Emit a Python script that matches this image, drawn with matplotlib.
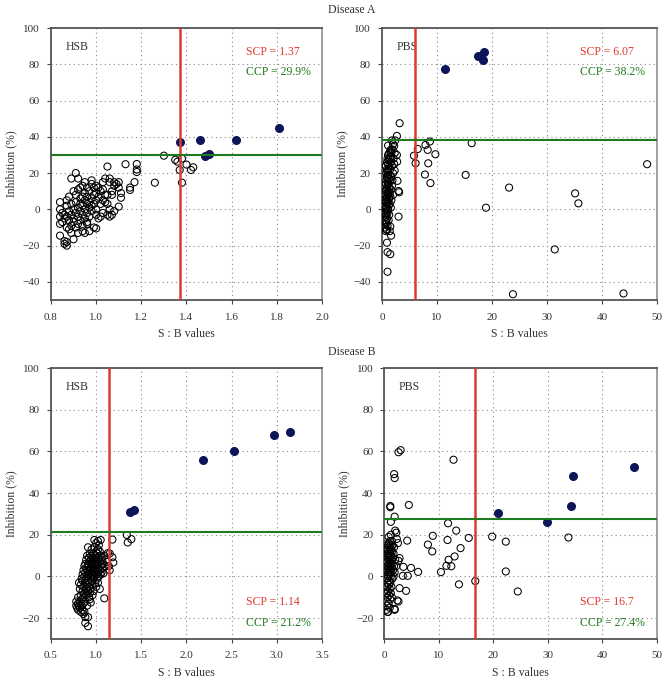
import matplotlib
matplotlib.use('Agg')
import matplotlib.pyplot as plt

plt.rcParams['font.family'] = ['Liberation Serif', 'DejaVu Serif']

# ── Disease A / HSB ──
hsb_a_open = [
    (0.84, 4), (0.84, 0), (0.84, -4), (0.84, -8), (0.84, -14.5), (0.85, -2), (0.85, -7), (0.86, -3),
    (0.86, -5), (0.86, -17.5), (0.86, -19), (0.87, -20), (0.87, -18), (0.87, -10), (0.87, -4), (0.87, 2),
    (0.87, 5), (0.88, 7), (0.88, -1), (0.88, -6), (0.88, -11), (0.89, 17), (0.89, 3), (0.89, -3),
    (0.89, -9), (0.89, -13), (0.9, 0), (0.9, -5), (0.9, -7), (0.9, -16.5), (0.9, 10), (0.91, 20),
    (0.91, -2), (0.91, 4), (0.91, -10), (0.91, 8), (0.92, 17), (0.92, -4), (0.92, 1), (0.92, -8),
    (0.92, -13), (0.93, 6), (0.93, -1), (0.93, 3), (0.93, -6), (0.93, 12), (0.94, 13), (0.94, -3),
    (0.94, 2), (0.94, -9), (0.94, -12), (0.95, 15), (0.95, 5), (0.95, 0), (0.95, -5), (0.95, -13),
    (0.95, 9), (0.96, 3), (0.96, -2), (0.96, 7), (0.96, 12), (0.96, -7), (0.97, 1), (0.97, 4),
    (0.97, -4), (0.97, 10), (0.98, 6), (0.98, 2), (0.98, -1), (0.98, 14), (0.99, -10), (0.99, 8),
    (0.99, 12), (0.99, 3), (1.0, -10.5), (1.0, 9), (1.0, 5), (1.0, 0), (1.0, -3), (1.01, 12),
    (1.01, 7), (1.01, -5), (1.02, 10), (1.02, 3), (1.02, -4), (1.03, 5), (1.03, 11), (1.03, -2),
    (1.04, 4), (1.04, 17), (1.04, 8), (1.05, 23.6), (1.05, -3), (1.05, 8), (1.05, 3), (1.06, 15),
    (1.06, 17), (1.06, 0), (1.06, -4), (1.07, -3), (1.07, 8), (1.07, 10), (1.08, 13), (1.08, -1),
    (1.08, 15), (1.09, 14), (1.1, 12), (1.11, 9), (1.03, 15), (0.96, -8), (0.97, -12), (0.94, 7),
    (0.92, 11), (0.98, 16), (1.0, 13),
    (1.30, 29.6), (1.35, 27.3), (1.36, 26.3), (1.38, 28), (1.37, 21.7), (1.38, 14.7), (1.40, 24.7),
    (1.42, 21.7), (1.43, 23.2), (1.26, 14.7), (1.13, 24.9), (1.18, 25), (1.18, 22), (1.18, 20.6),
    (1.15, 12), (1.15, 10.7), (1.17, 15), (1.10, 15), (1.11, 6.4), (1.10, 1.5),
]
hsb_a_filled = [(1.37, 37), (1.46, 38.3), (1.48, 29.6), (1.50, 30.6), (1.62, 38.3), (1.81, 44.8)]

# ── Disease A / PBS ──
pbs_a_open = [
    (0.6, -10), (0.6, -6), (0.6, -2), (0.6, 2), (0.6, 5), (0.6, 8), (0.7, -8), (0.7, -4), (0.7, 0),
    (0.7, 4), (0.7, 10), (0.7, 14), (0.7, 24), (0.8, -11), (0.8, -7), (0.8, -3), (0.8, 1), (0.8, 6),
    (0.8, 11), (0.8, 16), (0.8, 20), (0.9, -5), (0.9, -1), (0.9, 3), (0.9, 7), (0.9, 12), (0.9, 18),
    (0.9, 22), (0.9, 26), (1.0, -9), (1.0, -2), (1.0, 5), (1.0, 9), (1.0, 13), (1.0, 17), (1.0, 21),
    (1.0, 28), (1.1, 0), (1.1, 4), (1.1, 8), (1.1, 15), (1.1, 19), (1.1, 25), (1.1, 30), (1.2, -6),
    (1.2, 2), (1.2, 10), (1.2, 14), (1.2, 22), (1.2, 27), (1.3, -3), (1.3, 6), (1.3, 12), (1.3, 17),
    (1.3, 24), (1.3, 31), (1.4, 3), (1.4, 9), (1.4, 19), (1.4, 28), (1.5, -9.5), (1.5, 7), (1.5, 16),
    (1.5, 22), (1.5, 32), (1.6, 11), (1.6, 26), (1.6, 29), (1.7, 5), (1.7, 18), (1.7, 31), (1.8, 13),
    (1.8, 24), (1.9, 33), (2.0, 36), (2.0, 20), (2.1, 28), (2.2, 35), (2.3, 31), (2.4, 38), (1.8, 38),
    (2.0, 8), (1.4, -12), (0.7, -12), (2.2, 25), (1.6, 33), (1.9, 16),
    (3.2, 47.5), (2.7, 40.5), (6.5, 33.3), (5.8, 29.6), (6.1, 25.4), (7.9, 35.5), (8.7, 37.4),
    (8.3, 32.8), (8.4, 25.4), (9.7, 30.4), (7.8, 19.2), (8.8, 14.5), (16.3, 36.5), (15.2, 19),
    (23.1, 12), (18.9, 0.9), (35.1, 8.8), (35.7, 3.3), (31.4, -22.1), (23.8, -46.8), (43.9, -46.4),
    (48.2, 24.9), (3.0, 10.1), (3.1, 9.4), (3.0, -4), (2.8, 15.7), (2.75, 26.3), (2.7, 30), (2.3, 21.4),
    (1.6, 0.9), (1.65, -14.5), (1.5, -24.7), (1.0, -23.6), (0.9, -18.4), (1.0, -34.4), (1.1, 35.2),
    (0.9, -11.4),
]
pbs_a_filled = [(11.4, 77.5), (17.5, 84.7), (18.3, 82.5), (18.6, 86.6)]

# ── Disease B / HSB ──
hsb_b_open = [
    (0.78, -12), (0.78, -14), (0.79, -15), (0.8, -13), (0.8, -16), (0.8, -10), (0.81, -3), (0.81, -14),
    (0.82, -12), (0.82, -6), (0.82, -15), (0.83, -17), (0.83, -9), (0.83, -4), (0.84, -11), (0.84, -1),
    (0.84, -14), (0.85, -7), (0.85, -2), (0.85, 1), (0.85, -16), (0.86, -5), (0.86, 3), (0.86, -10),
    (0.86, -13), (0.87, -8), (0.87, 0), (0.87, 5), (0.87, -17), (0.88, -3), (0.88, 2), (0.88, 6),
    (0.88, -12), (0.89, -6), (0.89, -1), (0.89, 4), (0.89, 8), (0.89, -9), (0.9, -14), (0.9, -4),
    (0.9, 0), (0.9, 3), (0.9, 10), (0.91, -7), (0.91, -2), (0.91, 2), (0.91, 6), (0.91, 14),
    (0.92, -10), (0.92, -5), (0.92, 1), (0.92, 5), (0.92, 9), (0.93, -3), (0.93, 3), (0.93, 7),
    (0.93, 11), (0.93, -8), (0.94, -6), (0.94, 0), (0.94, 4), (0.94, 8), (0.94, -12.5), (0.95, -2),
    (0.95, 2), (0.95, 6), (0.95, 10), (0.95, 13), (0.96, -4), (0.96, 1), (0.96, 5), (0.96, 9),
    (0.97, -7), (0.97, -1), (0.97, 3), (0.97, 7), (0.97, 11), (0.98, 0), (0.98, 4), (0.98, 8),
    (0.98, 14), (0.98, 17.5), (0.99, -3), (0.99, 2), (0.99, 6), (0.99, 10), (1.0, -5), (1.0, 1),
    (1.0, 5), (1.0, 9), (1.0, 12), (1.0, 16), (1.01, -1), (1.01, 3), (1.01, 7), (1.01, 11),
    (1.02, -3), (1.02, 2), (1.02, 6), (1.02, 13), (1.02, 17), (1.03, 0), (1.03, 4), (1.03, 9),
    (1.03, 15), (1.04, -6), (1.04, 3), (1.04, 7), (1.04, 12), (1.05, 1), (1.05, 5), (1.05, 10),
    (1.05, 17.5), (1.06, 2), (1.06, 6), (1.06, 9), (1.07, 4), (1.07, 8), (1.08, 1.5), (1.08, 6),
    (1.09, 10), (1.1, 5), (1.12, 7), (1.14, 5), (1.15, 11), (1.15, 3), (0.96, -9), (0.93, -11),
    (0.88, -19.5), (0.86, -18),
    (1.34, 19.9), (1.35, 16.3), (1.39, 17.9), (1.18, 17.7), (1.19, 6.7), (1.18, 9.2), (1.13, 11.2),
    (1.09, -10.5), (0.91, -23.9), (0.88, -22.3), (0.91, -19.5),
]
hsb_b_filled = [(1.37, 31.1), (1.42, 31.9), (2.18, 56.1), (2.53, 60.4), (2.97, 68.1), (3.15, 69.2)]

# ── Disease B / PBS ──
pbs_b_open = [
    (0.4, -16), (0.4, -12), (0.4, -8), (0.5, -14), (0.5, -5), (0.5, -1), (0.5, 3), (0.5, 7), (0.6, -10),
    (0.6, -3), (0.6, 1), (0.6, 5), (0.6, 9), (0.6, 13), (0.7, -17), (0.7, -7), (0.7, 0), (0.7, 4),
    (0.7, 11), (0.7, 15), (0.8, -13), (0.8, -4), (0.8, 2), (0.8, 6), (0.8, 10), (0.8, 16), (0.9, -9),
    (0.9, -2), (0.9, 3), (0.9, 8), (0.9, 12), (0.9, 14), (1.0, -15), (1.0, -6), (1.0, 1), (1.0, 5),
    (1.0, 9), (1.0, 13), (1.0, 17), (1.1, -11), (1.1, -3), (1.1, 3), (1.1, 7), (1.1, 11), (1.1, 15),
    (1.2, -8), (1.2, 0), (1.2, 6), (1.2, 10), (1.2, 20), (1.3, -5), (1.3, 2), (1.3, 8), (1.3, 13),
    (1.4, -10), (1.4, 4), (1.4, 12), (1.4, 17), (1.5, -1), (1.5, 6), (1.5, 15), (1.6, 3), (1.6, 9),
    (1.7, 0), (1.7, 11), (1.8, 5), (1.8, 14), (1.9, -16), (1.9, 2), (2.0, 22), (2.0, 8), (2.2, 21),
    (2.3, 18), (2.2, 5), (2.6, -12), (2.5, 16), (0.6, -17), (0.8, 19),
    (3.0, 60.6), (2.6, 59.6), (12.7, 56), (1.8, 49.1), (1.9, 47.2), (1.1, 33.8), (1.1, 33.2),
    (4.5, 34.3), (1.9, 28.7), (1.2, 26.2), (11.7, 25.5), (13.2, 22), (8.9, 19.5), (8.0, 15.3),
    (8.8, 12), (11.6, 17.5), (15.5, 18.5), (19.8, 19.1), (22.3, 16.7), (33.8, 18.7), (4.2, 17.2),
    (14.0, 13.6), (12.9, 9.6), (11.8, 8), (11.4, 5.1), (12.3, 4.9), (10.4, 2.1), (6.2, 2.2),
    (4.9, 4.1), (3.5, 4.6), (3.4, 0.3), (4.3, 0.3), (4.0, -6.9), (2.8, -5.6), (13.7, -3.8),
    (16.7, -2.2), (22.3, 2.4), (24.5, -7.2), (2.4, -11.5), (1.9, -15.6), (2.8, 8.8), (2.6, 7.5),
]
pbs_b_filled = [(20.9, 30.6), (29.8, 26.3), (34.3, 34), (34.7, 48.2), (45.8, 52.6)]

panels = [
    # label, open, filled, scp, ccp, xlim, xticks, ylim, yticks, rect, text on top
    ('HSB', hsb_a_open, hsb_a_filled, 1.37, 29.9, (0.8, 2.0), [0.8, 1.0, 1.2, 1.4, 1.6, 1.8, 2.0],
     (-50, 100), [-40, -20, 0, 20, 40, 60, 80, 100], [0.0763, 0.5588, 0.4057, 0.4], True, '1.37', '29.9%'),
    ('PBS', pbs_a_open, pbs_a_filled, 6.07, 38.2, (0, 50), [0, 10, 20, 30, 40, 50],
     (-50, 100), [-40, -20, 0, 20, 40, 60, 80, 100], [0.5719, 0.5588, 0.4117, 0.4], True, '6.07', '38.2%'),
    ('HSB', hsb_b_open, hsb_b_filled, 1.14, 21.2, (0.5, 3.5), [0.5, 1.0, 1.5, 2.0, 2.5, 3.0, 3.5],
     (-30, 100), [-20, 0, 20, 40, 60, 80, 100], [0.0763, 0.0603, 0.4057, 0.3985], False, '1.14', '21.2%'),
    ('PBS', pbs_b_open, pbs_b_filled, 16.7, 27.4, (0, 50), [0, 10, 20, 30, 40, 50],
     (-30, 100), [-20, 0, 20, 40, 60, 80, 100], [0.5753, 0.0603, 0.4078, 0.3985], False, '16.7', '27.4%'),
]

fig = plt.figure(figsize=(6.68, 6.8), dpi=100)

for label, opn, fil, scp, ccp, xlim, xticks, ylim, yticks, rect, top, scp_s, ccp_s in panels:
    ax = fig.add_axes(rect)
    ox = [p[0] for p in opn]
    oy = [p[1] for p in opn]
    fx = [p[0] for p in fil]
    fy = [p[1] for p in fil]
    ax.scatter(ox, oy, s=26, facecolors='none', edgecolors='black', linewidths=0.75, zorder=3)
    ax.scatter(fx, fy, s=30, color='#0b1557', edgecolors='#0b1557', zorder=4)
    ax.axvline(scp, color='#e03a2f', linewidth=1.8, zorder=5)
    ax.axhline(ccp, color='#1f7a1f', linewidth=1.5, zorder=5)
    ax.set_xlim(*xlim)
    ax.set_ylim(*ylim)
    ax.set_xticks(xticks)
    ax.set_yticks(yticks)
    ax.set_xticklabels([f'{t:g}' if isinstance(t, int) else f'{t:.1f}' for t in xticks])
    ax.set_yticklabels([str(t).replace('-', '\u2212') for t in yticks])
    ax.grid(True, linestyle=(0, (1, 3)), color='#888888', linewidth=0.8)
    ax.tick_params(direction='out', length=3, labelsize=8, color='#444444',
                   labelcolor='#333333')
    ax.tick_params(axis='x', pad=6)
    ax.tick_params(axis='y', pad=5)
    for name, sp in ax.spines.items():
        sp.set_color('#555555' if name in ('left', 'bottom', 'top') else '#999999')
        sp.set_linewidth(1.3)
    ax.set_xlabel('S : B values', fontsize=8.5, color='#333333', labelpad=5)
    ax.set_ylabel('Inhibition (%)', fontsize=8.5, color='#333333', labelpad=4)
    ax.text(0.054, 0.93, label, transform=ax.transAxes, fontsize=8.5, color='#333333', va='center')
    if top:
        ax.text(0.72, 0.91, f'SCP = {scp_s}', transform=ax.transAxes, fontsize=8.5, color='#e03a2f', va='center')
        ax.text(0.72, 0.84, f'CCP = {ccp_s}', transform=ax.transAxes, fontsize=8.5, color='#1f7a1f', va='center')
    else:
        ax.text(0.72, 0.136, f'SCP = {scp_s}', transform=ax.transAxes, fontsize=8.5, color='#e03a2f', va='center')
        ax.text(0.72, 0.059, f'CCP = {ccp_s}', transform=ax.transAxes, fontsize=8.5, color='#1f7a1f', va='center')

fig.text(0.527, 0.985, 'Disease A', ha='center', va='center', fontsize=8.5, color='#333333')
fig.text(0.527, 0.482, 'Disease B', ha='center', va='center', fontsize=8.5, color='#333333')

fig.savefig('out.png', dpi=100, facecolor='white')
